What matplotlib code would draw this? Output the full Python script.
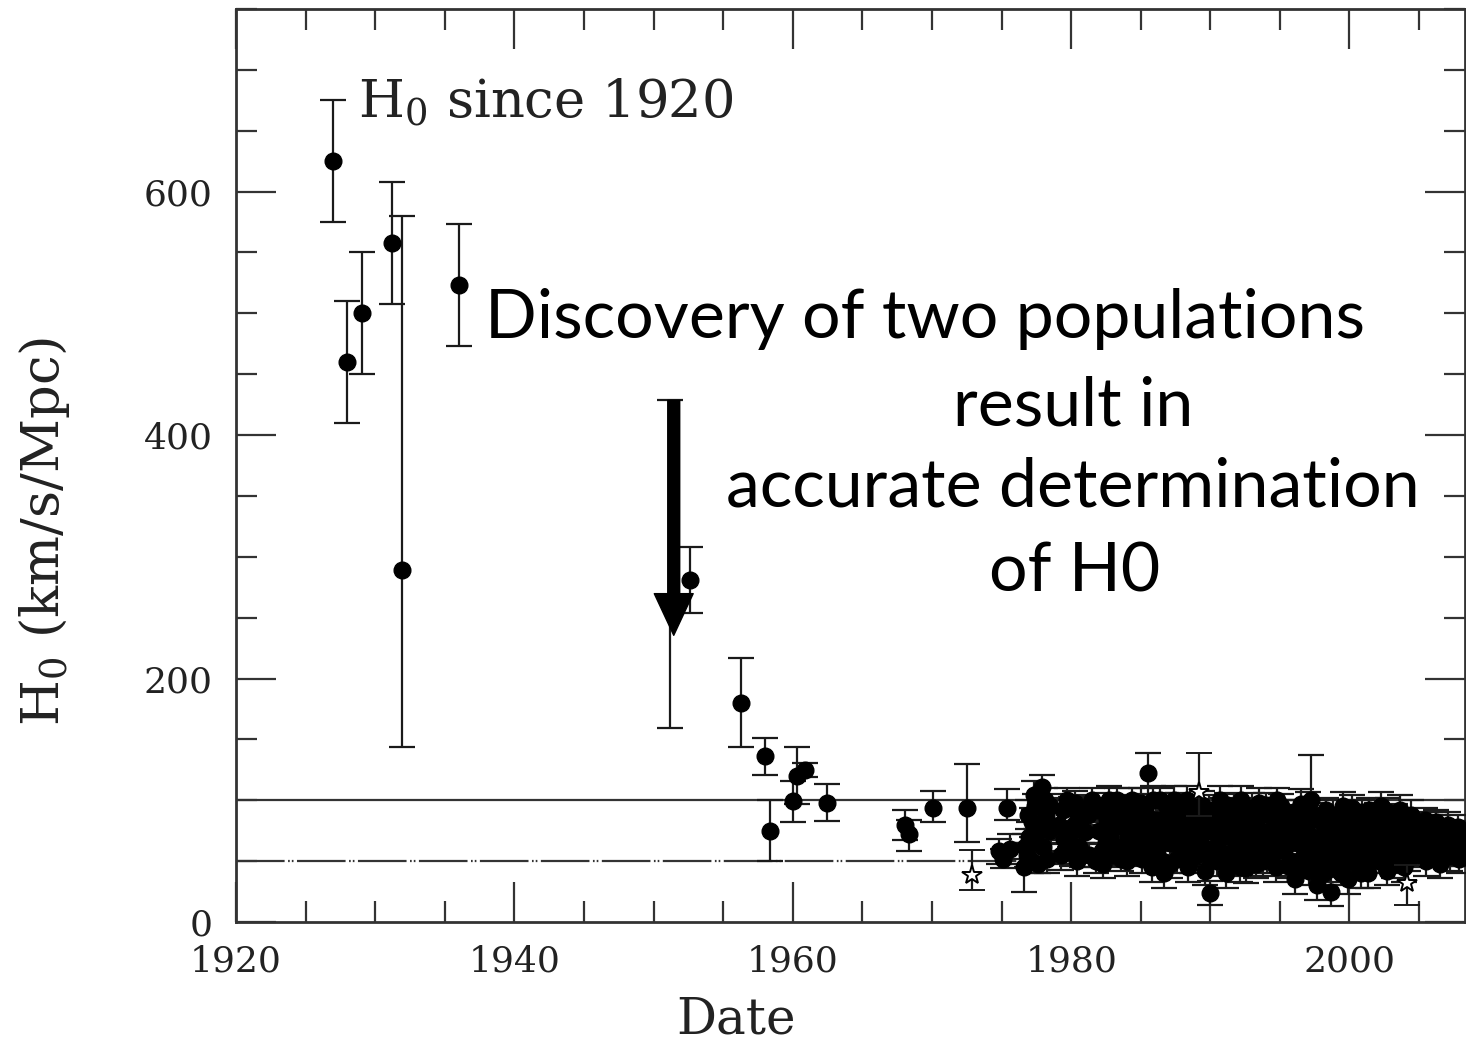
import matplotlib
matplotlib.use("Agg")
import matplotlib.pyplot as plt
from matplotlib.patches import FancyArrowPatch, ArrowStyle
from matplotlib.ticker import MultipleLocator, FixedLocator

plt.rcParams["mathtext.fontset"] = "dejavuserif"
plt.rcParams["lines.scale_dashes"] = False

# ---- Hubble constant determinations (km/s/Mpc) ----
# early era, individually resolved points
early_year = [1927.0, 1928.0, 1929.05, 1931.2, 1931.9, 1936.0, 1951.2, 1952.6,
              1956.3, 1958.0, 1958.35, 1960.0, 1960.3, 1960.85, 1962.45,
              1968.1, 1968.35, 1970.05, 1972.55, 1975.4]
early_h0 = [625, 460, 500, 558, 289, 523, 262, 281,
            180, 136, 75, 99, 120, 125, 98,
            80, 72, 94, 94, 94]
early_lo = [50, 50, 50, 50, 145, 50, 103, 27,
            36, 15, 25, 17, 23, 6, 15,
            13, 14, 12, 28, 10]
early_hi = [50, 50, 50, 50, 291, 50, 167, 27,
            37, 15, 25, 17, 24, 6, 15,
            12, 12, 14, 36, 15]

# modern era, dense cloud of measurements
modern_year = [
    1974.8, 1975.1, 1975.6,
    1976.6, 1976.8, 1977.0, 1977.2, 1977.4, 1977.6, 1977.9, 1978.0, 1978.2, 1978.4,
    1979.3, 1979.5, 1979.7, 1980.0, 1980.2, 1980.4, 1980.6, 1980.9, 1981.0,
    1981.3, 1981.5, 1981.8, 1982.2, 1982.4, 1982.6, 1982.8, 1983.0, 1983.3, 1983.5,
    1983.7, 1984.0, 1984.2, 1984.5, 1984.7, 1985.0, 1985.2, 1985.5, 1985.6, 1985.8,
    1986.0, 1986.2, 1986.4, 1986.7, 1986.9,
    1987.2, 1987.4, 1987.6, 1987.8, 1988.0, 1988.2, 1988.4, 1988.6, 1988.8, 1989.0,
    1989.4, 1989.6, 1989.8, 1990.0, 1990.1,
    1990.3, 1990.5, 1990.7, 1990.9, 1991.1, 1991.3, 1991.5, 1991.7, 1991.9, 1992.1,
    1992.3, 1992.5, 1992.7, 1992.9, 1993.1, 1993.3, 1993.5, 1993.7, 1993.9, 1994.1,
    1994.3, 1994.5, 1994.7, 1994.9, 1995.1, 1995.3, 1995.5, 1995.7, 1995.9,
    1996.1, 1996.3, 1996.5, 1996.7, 1996.9, 1997.1, 1997.2, 1997.4, 1997.5, 1997.7,
    1997.9, 1998.1, 1998.3, 1998.5, 1998.7, 1998.9, 1999.1, 1999.3, 1999.5, 1999.7,
    1999.9, 2000.1, 2000.3, 2000.5, 2000.7, 2000.9, 2001.1, 2001.3, 2001.5, 2001.7,
    2001.9, 2002.1, 2002.3, 2002.5, 2002.7, 2002.9, 2003.1, 2003.3, 2003.5, 2003.7,
    2003.9, 2004.3, 2004.5,
    2004.8, 2005.0, 2005.3, 2005.5, 2005.8, 2006.0, 2006.3, 2006.5, 2006.8, 2007.0,
    2007.3, 2007.6, 2007.9, 2008.1,
]
modern_h0 = [
    58, 52, 60,
    45, 55, 70, 82, 95, 48, 111, 62, 88, 75,
    55, 68, 100, 95, 80, 50, 62, 92, 74,
    55, 100, 50, 58, 96, 85, 70, 55, 100, 80,
    62, 50, 92, 75, 58, 98, 66, 122, 85, 45,
    72, 56, 100, 40, 88,
    65, 100, 52, 78, 92, 60, 45, 85, 70, 55,
    96, 42, 75, 24, 60,
    88, 50, 100, 70, 40, 82, 57, 95, 65, 45,
    77, 90, 55, 68, 85, 48, 98, 60, 73, 52,
    88, 66, 45, 80, 95, 58, 70, 50, 84,
    35, 65, 97, 55, 75, 42, 100, 88, 60, 30,
    70, 50, 92, 80, 25, 62, 45, 72, 95, 55,
    35, 85, 65, 48, 75, 90, 58, 40, 70, 82,
    60, 50, 95, 68, 42, 76, 60, 87, 52, 72,
    45, 78, 62,
    55, 72, 66, 50, 80, 62, 70, 48, 74, 58,
    66, 73, 52, 64,
]
modern_err = [
    10, 8, 12,
    20, 10, 12, 12, 10, 8, 10, 10, 12, 10,
    12, 10, 10, 8, 10, 12, 10, 12, 10,
    10, 10, 10, 12, 10, 10, 12, 10, 10, 12,
    10, 12, 10, 12, 10, 12, 10, 17, 10, 12,
    10, 12, 10, 12, 12,
    10, 12, 12, 10, 12, 10, 12, 10, 10, 12,
    12, 12, 10, 10, 12,
    10, 12, 12, 10, 12, 10, 12, 10, 10, 12,
    10, 12, 10, 12, 10, 12, 12, 10, 10, 12,
    10, 12, 12, 10, 10, 12, 10, 12, 10,
    12, 10, 12, 10, 12, 12, 37, 10, 12, 12,
    10, 12, 10, 12, 12, 10, 12, 10, 12, 10,
    12, 10, 12, 10, 12, 10, 12, 12, 10, 10,
    12, 10, 12, 10, 12, 10, 12, 10, 12, 10,
    12, 10, 12,
    10, 12, 10, 12, 10, 12, 10, 12, 10, 12,
    10, 10, 12, 10,
]

# further modern measurements filling the crowded region
survey_year = [
    1976.7, 1976.9, 1977.1, 1977.3, 1977.5, 1977.7, 1978.1, 1978.3, 1978.5,
    1979.1, 1979.4, 1979.6, 1979.9, 1980.1, 1980.3, 1980.5, 1980.8, 1981.2, 1981.9,
    1982.0, 1982.3, 1982.5, 1982.7, 1982.9, 1983.1, 1983.2, 1983.4, 1983.6, 1983.8,
    1984.1, 1984.3, 1984.4, 1984.6, 1984.8, 1984.9,
    1985.1, 1985.3, 1985.4, 1985.7, 1985.9, 1986.1, 1986.3, 1986.5, 1986.6, 1986.8,
    1987.0, 1987.1, 1987.3, 1987.5, 1987.7, 1987.9, 1988.1, 1988.3, 1988.5, 1988.7,
    1988.9, 1989.1, 1989.3, 1989.5, 1989.7, 1989.9,
    1990.2, 1990.4, 1990.6, 1990.8, 1991.0, 1991.2, 1991.4, 1991.6, 1991.8, 1992.0,
    1992.2, 1992.4, 1992.6, 1992.8, 1993.0, 1993.2, 1993.4, 1993.6, 1993.8, 1994.0,
    1994.2, 1994.4, 1994.6, 1994.8, 1995.0, 1995.2, 1995.4, 1995.6, 1995.8,
    1996.0, 1996.2, 1996.4, 1996.6, 1996.8, 1997.0, 1997.3, 1997.6, 1997.8, 1998.0,
    1998.2, 1998.4, 1998.6, 1998.8, 1999.0, 1999.2, 1999.4, 1999.6, 1999.8, 2000.0,
    2000.2, 2000.4, 2000.6, 2000.8, 2001.0, 2001.2, 2001.4, 2001.6, 2001.8, 2002.0,
    2002.2, 2002.4, 2002.6, 2002.8, 2003.0, 2003.2, 2003.4, 2003.6, 2003.8, 2004.0,
    2004.2, 2004.4, 2004.6,
    2004.9, 2005.1, 2005.2, 2005.4, 2005.6, 2005.9, 2006.1, 2006.2, 2006.4, 2006.6,
    2006.9, 2007.1, 2007.2, 2007.4, 2007.7, 2007.8, 2008.0, 2008.2,
]
survey_h0 = [
    62, 88, 50, 104, 66, 78, 100, 52, 95,
    80, 92, 60, 72, 58, 98, 86, 55, 88, 92,
    75, 48, 65, 100, 90, 78, 62, 92, 52, 85,
    70, 58, 100, 88, 66, 80,
    52, 92, 74, 60, 100, 84, 64, 50, 76, 96,
    82, 48, 88, 70, 96, 58, 76, 100, 66, 52,
    90, 80, 64, 86, 55, 92,
    74, 62, 82, 92, 56, 96, 70, 48, 84, 60,
    100, 66, 44, 82, 94, 64, 76, 88, 50, 96,
    70, 56, 82, 100, 62, 76, 88, 46, 66,
    90, 78, 48, 84, 62, 95, 70, 48, 84, 64,
    40, 72, 56, 88, 78, 60, 40, 82, 68, 50,
    94, 74, 60, 40, 80, 66, 92, 52, 72, 86,
    64, 78, 54, 90, 68, 48, 74, 92, 62, 80,
    52, 88, 70,
    64, 78, 58, 84, 68, 56, 76, 82, 60, 68,
    62, 80, 54, 70, 60, 78, 68, 56,
]
survey_err = [
    10, 12, 10, 12, 10, 12, 10, 12, 10,
    12, 10, 12, 10, 12, 10, 12, 10, 12, 10,
    10, 12, 10, 12, 10, 12, 10, 12, 10, 12,
    10, 12, 10, 12, 10, 12,
    12, 10, 12, 10, 12, 10, 12, 10, 12, 10,
    10, 12, 10, 12, 10, 12, 10, 12, 10, 12,
    10, 12, 10, 12, 10, 12,
    12, 10, 12, 10, 12, 10, 12, 10, 12, 10,
    12, 10, 12, 10, 12, 10, 12, 10, 12, 10,
    12, 10, 12, 10, 12, 10, 12, 10, 12,
    10, 12, 10, 12, 10, 12, 10, 12, 10, 12,
    10, 12, 10, 12, 10, 12, 10, 12, 10, 12,
    10, 12, 10, 12, 10, 12, 10, 12, 10, 12,
    10, 12, 10, 12, 10, 12, 10, 12, 10, 12,
    10, 12, 10,
    12, 10, 12, 10, 12, 10, 12, 10, 12, 10,
    12, 10, 12, 10, 12, 10, 12, 10,
]

# open-star measurements
star_year = [1972.85, 1989.2, 2004.1]
star_h0 = [39, 107, 32]
star_lo = [13, 20, 18]
star_hi = [20, 32, 15]

# reference levels
ref_solid = 100
ref_dashed = 50

W, H = 1466, 1045
fig = plt.figure(figsize=(W / 100, H / 100), dpi=100)
ax = fig.add_axes([236 / W, (H - 922) / H, (1465 - 236) / W, (922 - 9) / H])

ink = "#1a1a1a"
ebar = dict(fmt="o", color="black", ms=12, ecolor=ink, elinewidth=1.6,
            capsize=9.7, capthick=1.6, zorder=3)

ax.errorbar(early_year, early_h0, yerr=[early_lo, early_hi], **ebar)
ax.errorbar(modern_year, modern_h0, yerr=modern_err, **ebar)
ax.errorbar(survey_year, survey_h0, yerr=survey_err, **ebar)
ax.errorbar(star_year, star_h0, yerr=[star_lo, star_hi], fmt="*", ms=15,
            mfc="white", mec="black", mew=1.4, ecolor=ink, elinewidth=1.6,
            capsize=9.7, capthick=1.6, zorder=4)

ax.axhline(ref_solid, color="#333333", lw=1.6, zorder=2)
ax.axhline(ref_dashed, color="#333333", lw=1.6, zorder=2,
           linestyle=(0, (35, 2.5, 1.2, 1.5, 1.2, 2.5)))

ax.set_xlim(1920, 2008.3)
ax.set_ylim(0, 750)
ax.xaxis.set_major_locator(FixedLocator([1920, 1940, 1960, 1980, 2000]))
ax.xaxis.set_minor_locator(MultipleLocator(5))
ax.yaxis.set_major_locator(FixedLocator([0, 200, 400, 600]))
ax.yaxis.set_minor_locator(MultipleLocator(50))

ax.tick_params(which="both", direction="in", top=True, right=True,
               color="#333333", width=1.6)
ax.tick_params(which="major", length=29)
ax.tick_params(which="minor", length=15)
ax.tick_params(axis="y", which="major", pad=17)
ax.tick_params(axis="x", which="major", pad=16)
for lab in ax.get_xticklabels() + ax.get_yticklabels():
    lab.set_fontfamily("DejaVu Serif")
    lab.set_fontsize(26)
    lab.set_color("#222222")
for sp in ax.spines.values():
    sp.set_linewidth(2.0)
    sp.set_color("#333333")


def px(x, y):
    return x / W, 1 - y / H


serif = dict(family="DejaVu Serif", color="#222222")
fig.text(*px(736, 1034), "Date", ha="center", va="baseline", fontsize=36, **serif)
fig.text(*px(45, 532), r"H$_0$ (km/s/Mpc)", ha="center", va="center",
         rotation=90, fontsize=38, **serif)
fig.text(*px(358, 117), r"H$_0$ since 1920", ha="left", va="baseline",
         fontsize=38, **serif)

# overlay note and arrow
note = dict(family="Lato", color="black", fontsize=49, ha="center", va="baseline")
fig.text(*px(925, 338), "Discovery of two populations", **note)
fig.text(*px(1073, 425), "result in", **note)
fig.text(*px(1073, 507), "accurate determination", **note)
fig.text(*px(1075, 592), "of H0", **note)

arrow = FancyArrowPatch((1951.45, 428.5), (1951.45, 235.5),
                        arrowstyle=ArrowStyle("simple", head_length=30,
                                              head_width=28, tail_width=8.6),
                        mutation_scale=1, color="black", shrinkA=0, shrinkB=0,
                        zorder=6)
ax.add_patch(arrow)

fig.savefig("out.png", dpi=100)
